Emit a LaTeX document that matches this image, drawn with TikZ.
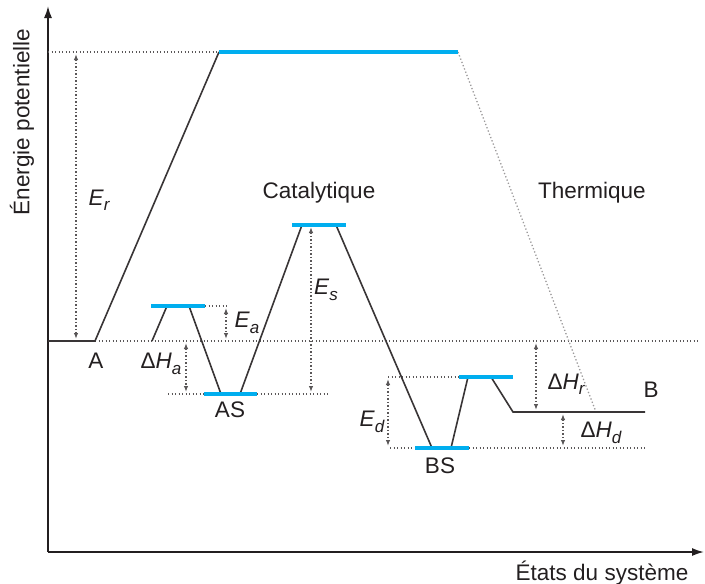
\documentclass[tikz,border=0pt]{standalone}
\usepackage{fontspec}
\setmainfont{Liberation Sans}
\usetikzlibrary{arrows.meta}
\definecolor{barblue}{HTML}{00AEEF}
\definecolor{ink}{HTML}{231F20}
\newcommand\mysub[1]{\raisebox{-0.45ex}{\fontsize{17}{17}\selectfont\itshape #1}}
\newcommand\myE[1]{\textit{E}\mysub{#1}}
\newcommand\myDH[1]{Δ\textit{H}\mysub{#1}}
\begin{document}
\begin{tikzpicture}[x=1pt,y=-1pt,
  lvl/.style={line width=4.2pt, draw=barblue},
  conn/.style={line width=1.6pt, draw=ink!90},
  dotline/.style={line width=1.3pt, dash pattern=on 1.3pt off 2.2pt, draw=ink!75},
  lightdot/.style={line width=1.3pt, dash pattern=on 1.3pt off 2.2pt, draw=ink!45},
  dimarrow/.style={dotline, {Latex[length=6pt,width=4.5pt]}-{Latex[length=6pt,width=4.5pt]}},
  lab/.style={font=\fontsize{22.5}{26}\selectfont, text=ink, inner sep=0pt}]
\useasboundingbox (0,0) rectangle (705,584);
% axes
\coordinate (O) at (48,552);
\coordinate (Ytop) at (48,6);
\coordinate (Xend) at (704,552);
\draw[line width=1.7pt, draw=ink, -{Latex[length=12pt,width=8pt]}] (O) -- (Ytop);
\draw[line width=1.7pt, draw=ink, -{Latex[length=12pt,width=8pt]}] (O) -- (Xend);
% key coordinates
\coordinate (A0) at (48,341);
\coordinate (A1) at (95,341);
\coordinate (T0) at (219,52);
\coordinate (T1) at (458,52);
\coordinate (a0) at (151,306);
\coordinate (a1) at (205,306);
\coordinate (as0) at (204,394);
\coordinate (as1) at (257,394);
\coordinate (s0) at (292,225);
\coordinate (s1) at (346,225);
\coordinate (bs0) at (415,448);
\coordinate (bs1) at (469,448);
\coordinate (d0) at (459,377);
\coordinate (d1) at (513,377);
\coordinate (B0) at (513,412);
\coordinate (B1) at (645,412);
\coordinate (Th) at (596,412);
% dotted reference lines
\draw[dotline] (48,52) -- (T0);
\draw[dotline] (A1) -- (698,341);
\draw[dotline] (a1) -- (227,306);
\draw[dotline] (168,394) -- (as0);
\draw[dotline] (as1) -- (328,394);
\draw[dotline] (390,448) -- (bs0);
\draw[dotline] (bs1) -- (645,448);
\draw[dotline] (388,377) -- (d0);
\draw[lightdot] (T1) -- (Th);
% solid connectors
\draw[conn] (A0) -- (A1) -- (T0);
\draw[conn] (152,341) -- (167,306);
\draw[conn] (189,306) -- (221,394);
\draw[conn] (240,394) -- (302,225);
\draw[conn] (336,225) -- (432,448);
\draw[conn] (451,448) -- (468,377);
\draw[conn] (491,377) -- (B0) -- (B1);
% levels
\draw[lvl] (T0) -- (T1);
\draw[lvl] (a0) -- (a1);
\draw[lvl] (as0) -- (as1);
\draw[lvl] (s0) -- (s1);
\draw[lvl] (bs0) -- (bs1);
\draw[lvl] (d0) -- (d1);
% dimension arrows
\draw[dimarrow] (76,54) -- (76,339);
\draw[dimarrow] (226,308) -- (226,339);
\draw[dimarrow] (186,343) -- (186,392);
\draw[dimarrow] (311,227) -- (311,392);
\draw[dimarrow] (388,379) -- (388,446);
\draw[dimarrow] (536,343) -- (536,410);
\draw[dimarrow] (563,414) -- (563,446);
% labels
\node[lab] (lEr) at (99,200) {\myE{r}};
\node[lab] (lEa) at (247,323) {\myE{a}};
\node[lab] (lHa) at (161,364) {\myDH{a}};
\node[lab] (lEs) at (326,290) {\myE{s}};
\node[lab] (lEd) at (372,422) {\myE{d}};
\node[lab] (lHr) at (566,384) {\myDH{r}};
\node[lab] (lHd) at (601,433) {\myDH{d}};
\node[lab] (lA) at (96,361) {A};
\node[lab] (lAS) at (230,410) {AS};
\node[lab] (lBS) at (440,466) {BS};
\node[lab] (lB) at (651,390) {B};
\node[lab] (lcat) at (319,193) {Catalytique};
\node[lab] (lth) at (592,193) {Thermique};
\node[lab, rotate=90] (ly) at (22,122) {Énergie potentielle};
\node[lab] (lx) at (602,573) {États du système};
\end{tikzpicture}
\end{document}
